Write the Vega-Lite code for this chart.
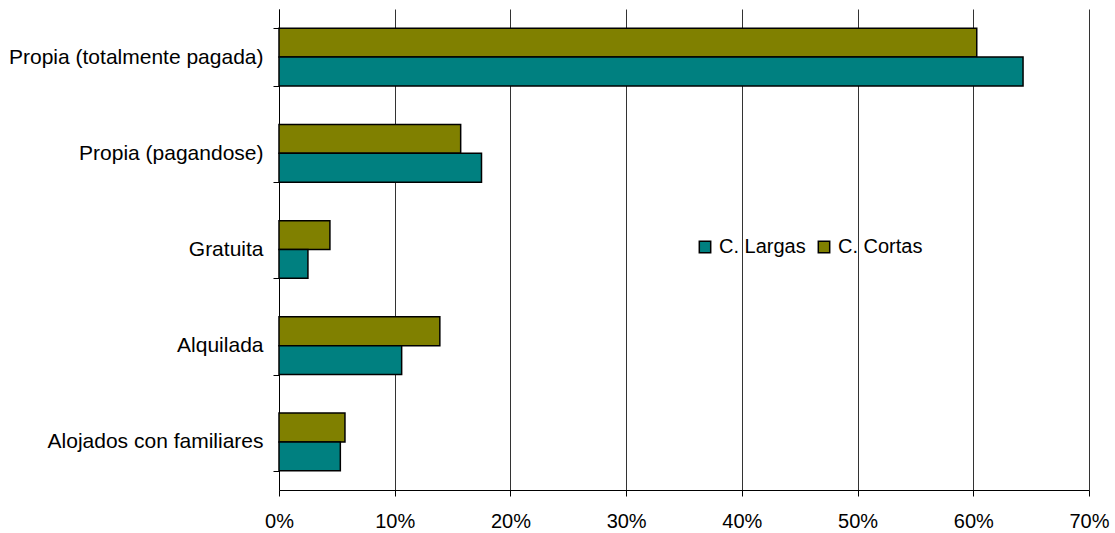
{
  "$schema": "https://vega.github.io/schema/vega-lite/v6.json",
  "autosize": "none",
  "width": 810,
  "height": 481,
  "padding": {"left": 279, "top": 9, "right": 26, "bottom": 43},
  "background": "white",
  "config": {
    "font": "Liberation Sans",
    "view": {"stroke": null}
  },
  "data": {
    "values": [
      {"tenencia": "Propia (totalmente pagada)", "serie": "C. Cortas", "valor": 0.603},
      {"tenencia": "Propia (totalmente pagada)", "serie": "C. Largas", "valor": 0.643},
      {"tenencia": "Propia (pagandose)", "serie": "C. Cortas", "valor": 0.157},
      {"tenencia": "Propia (pagandose)", "serie": "C. Largas", "valor": 0.175},
      {"tenencia": "Gratuita", "serie": "C. Cortas", "valor": 0.044},
      {"tenencia": "Gratuita", "serie": "C. Largas", "valor": 0.025},
      {"tenencia": "Alquilada", "serie": "C. Cortas", "valor": 0.139},
      {"tenencia": "Alquilada", "serie": "C. Largas", "valor": 0.106},
      {"tenencia": "Alojados con familiares", "serie": "C. Cortas", "valor": 0.057},
      {"tenencia": "Alojados con familiares", "serie": "C. Largas", "valor": 0.053}
    ]
  },
  "mark": {"type": "bar", "stroke": "black", "strokeWidth": 1.5},
  "encoding": {
    "y": {
      "field": "tenencia",
      "type": "nominal",
      "sort": ["Propia (totalmente pagada)", "Propia (pagandose)", "Gratuita", "Alquilada", "Alojados con familiares"],
      "scale": {"paddingInner": 0.4, "paddingOuter": 0.2},
      "axis": {
        "title": null,
        "tickBand": "extent",
        "domainColor": "black",
        "tickColor": "black",
        "tickSize": 6,
        "labelFontSize": 21,
        "labelColor": "black",
        "labelPadding": 10,
        "labelLimit": 400,
        "grid": false
      }
    },
    "yOffset": {
      "field": "serie",
      "type": "nominal",
      "sort": ["C. Cortas", "C. Largas"]
    },
    "x": {
      "field": "valor",
      "type": "quantitative",
      "scale": {"domain": [0, 0.7], "nice": false},
      "axis": {
        "title": null,
        "format": ".0%",
        "values": [0, 0.1, 0.2, 0.3, 0.4, 0.5, 0.6, 0.7],
        "grid": true,
        "gridColor": "#333333",
        "gridWidth": 1,
        "domainColor": "black",
        "tickColor": "black",
        "tickSize": 6,
        "labelFontSize": 20,
        "labelColor": "black",
        "labelPadding": 15,
        "labelFlush": false
      }
    },
    "color": {
      "field": "serie",
      "type": "nominal",
      "scale": {"domain": ["C. Largas", "C. Cortas"], "range": ["#008080", "#808000"]},
      "legend": {
        "title": null,
        "orient": "none",
        "legendX": 416,
        "legendY": 228,
        "direction": "horizontal",
        "symbolType": "square",
        "symbolSize": 130,
        "symbolStrokeColor": "black",
        "symbolStrokeWidth": 1.5,
        "labelFontSize": 20,
        "labelColor": "black",
        "columnPadding": 8,
        "labelOffset": 4
      }
    }
  }
}
